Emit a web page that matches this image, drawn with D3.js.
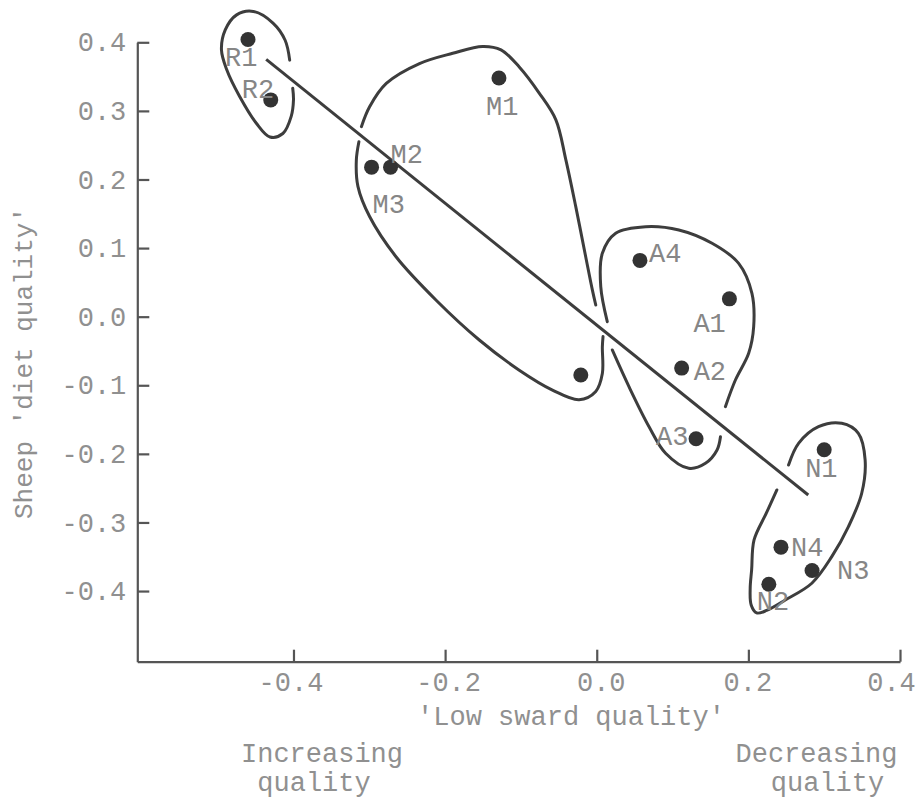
<!DOCTYPE html>
<html>
<head>
<meta charset="utf-8">
<script src="https://cdn.jsdelivr.net/npm/d3@7"></script>
<style>
  html, body { margin: 0; padding: 0; background: #fff; }
  svg { display: block; }
  text { font-family: "Liberation Mono", "Courier New", monospace; }
</style>
</head>
<body>
<svg id="chart" width="916" height="799"></svg>
<script>
// ---------------- data ----------------
const pointNames = ["R1", "R2", "M1", "M2", "M3", "", "A4", "A1", "A2", "A3", "N1", "N4", "N3", "N2"];
const lowSwardQuality = [-0.460, -0.430, -0.129, -0.272, -0.297, -0.021, 0.057, 0.175, 0.112, 0.131, 0.300, 0.243, 0.284, 0.227];
const sheepDietQuality = [0.404, 0.316, 0.348, 0.218, 0.218, -0.085, 0.082, 0.026, -0.075, -0.178, -0.194, -0.336, -0.370, -0.390];

// fitted line end points
const trendX = [-0.436, 0.279];
const trendY = [0.375, -0.260];

// axis ticks
const xTickValues = [-0.4, -0.2, 0.0, 0.2, 0.4];
const xTickLabels = ["-0.4", "-0.2", "0.0", "0.2", "0.4"];
const yTickValues = [0.4, 0.3, 0.2, 0.1, 0.0, -0.1, -0.2, -0.3, -0.4];
const yTickLabels = ["0.4", "0.3", "0.2", "0.1", "0.0", "-0.1", "-0.2", "-0.3", "-0.4"];

// group outlines (hand-drawn, open strokes), in data units [x, y]
const groupR = [[-0.405,0.374],[-0.411,0.403],[-0.427,0.428],[-0.453,0.445],[-0.475,0.440],[-0.490,0.418],[-0.495,0.389],[-0.488,0.360],[-0.471,0.321],[-0.449,0.282],[-0.431,0.262],[-0.414,0.267],[-0.403,0.292],[-0.400,0.316],[-0.401,0.333]];
const groupMUpper = [[-0.3104,0.277],[-0.2996,0.306],[-0.2776,0.340],[-0.2338,0.369],[-0.190,0.384],[-0.1505,0.394],[-0.1263,0.389],[-0.1022,0.364],[-0.0759,0.326],[-0.0539,0.287],[-0.0408,0.229],[-0.0276,0.160],[-0.0145,0.087],[-0.0058,0.039],[-0.0013,0.017]];
const groupMLower = [[-0.3137,0.255],[-0.3171,0.228],[-0.315,0.190],[-0.2996,0.146],[-0.2645,0.087],[-0.2118,0.024],[-0.1549,-0.034],[-0.1022,-0.078],[-0.0584,-0.107],[-0.0233,-0.121],[-0.0013,-0.109],[0.0074,-0.083],[0.0074,-0.044],[0.0083,-0.029]];
const groupAUpper = [[0.0139,-0.0073],[0.0053,0.0437],[0.0074,0.0924],[0.025,0.1216],[0.0645,0.1312],[0.1083,0.1264],[0.1521,0.107],[0.1872,0.0778],[0.2047,0.0341],[0.207,-0.0146],[0.2004,-0.0534],[0.1829,-0.0923],[0.1697,-0.1312]];
const groupALower = [[0.0205,-0.0485],[0.0425,-0.102],[0.0688,-0.160],[0.0908,-0.199],[0.1214,-0.221],[0.1434,-0.2137],[0.1587,-0.1943],[0.1632,-0.175]];
const groupN = [[0.253,-0.2162],[0.2662,-0.1846],[0.2925,-0.1603],[0.3232,-0.1554],[0.3451,-0.170],[0.354,-0.2089],[0.3495,-0.2574],[0.332,-0.3061],[0.310,-0.3499],[0.2837,-0.3886],[0.2487,-0.413],[0.2241,-0.4283],[0.2109,-0.4319],[0.2037,-0.4203],[0.2024,-0.3955],[0.2043,-0.3693],[0.2075,-0.3255],[0.2238,-0.2862],[0.2376,-0.2526]];

// texts
const xTitle = "'Low sward quality'";
const yTitle = "Sheep 'diet quality'";
const leftNote = ["Increasing", "quality"];
const rightNote = ["Decreasing", "quality"];

// ---------------- layout (pixel offsets, not data) ----------------
const labelOffsets = [[-23,26],[-29,-2],[-13,37],[0,-4],[1,46],[0,0],[9,2],[-36,33],[12,12],[-40,6],[-19,27],[10,9],[25,9],[-12,26]];
const xTickShift = [-3, 3, 4, -1, -9];

const svg = d3.select("#chart");
const FONT = 27;
const textColor = "#909090";
const inkColor = "#3d3d3d";

const x = d3.scaleLinear().domain([-0.606, 0.4]).range([137.3, 900]);
const y = d3.scaleLinear().domain([-0.503, 0.4]).range([661.7, 42.3]);

// axes
const xAxis = d3.axisBottom(x)
  .tickValues(xTickValues)
  .tickFormat((d, i) => xTickLabels[i])
  .tickSizeInner(-12).tickSizeOuter(0).tickPadding(10);
const yAxis = d3.axisLeft(y)
  .tickValues(yTickValues)
  .tickFormat((d, i) => yTickLabels[i])
  .tickSizeInner(-12).tickSizeOuter(0).tickPadding(11);

const gx = svg.append("g").attr("transform", `translate(0,${y(-0.503)})`).call(xAxis);
const gy = svg.append("g").attr("transform", `translate(${x(-0.606)},0)`).call(yAxis);
[gx, gy].forEach(g => {
  g.select(".domain").attr("stroke", "#555").attr("stroke-width", 2.2);
  g.selectAll(".tick line").attr("stroke", "#555").attr("stroke-width", 2.2);
  g.selectAll(".tick text").attr("fill", textColor).attr("font-size", FONT)
    .attr("font-family", "Liberation Mono, Courier New, monospace");
});
gx.selectAll(".tick text").attr("dx", (d, i) => xTickShift[i]);

// titles
svg.append("text").attr("x", 571).attr("y", 725).attr("text-anchor", "middle")
  .attr("font-size", FONT).attr("fill", textColor).text(xTitle);
svg.append("text").attr("transform", `translate(32,363) rotate(-90)`).attr("text-anchor", "middle")
  .attr("font-size", 26).attr("fill", textColor).text(yTitle);

svg.append("text").attr("x", 322).attr("y", 762).attr("text-anchor", "middle")
  .attr("font-size", FONT).attr("fill", textColor).text(leftNote[0]);
svg.append("text").attr("x", 314).attr("y", 791).attr("text-anchor", "middle")
  .attr("font-size", FONT).attr("fill", textColor).text(leftNote[1]);
svg.append("text").attr("x", 816.5).attr("y", 762).attr("text-anchor", "middle")
  .attr("font-size", FONT).attr("fill", textColor).text(rightNote[0]);
svg.append("text").attr("x", 827.5).attr("y", 791).attr("text-anchor", "middle")
  .attr("font-size", FONT).attr("fill", textColor).text(rightNote[1]);

// group outlines
const outline = d3.line().x(d => x(d[0])).y(d => y(d[1])).curve(d3.curveCatmullRom.alpha(0.5));
[groupR, groupMUpper, groupMLower, groupAUpper, groupALower, groupN].forEach(seg => {
  svg.append("path").attr("d", outline(seg)).attr("fill", "none")
    .attr("stroke", inkColor).attr("stroke-width", 3).attr("stroke-linecap", "round");
});

// trend line
svg.append("line")
  .attr("x1", x(trendX[0])).attr("y1", y(trendY[0]))
  .attr("x2", x(trendX[1])).attr("y2", y(trendY[1]))
  .attr("stroke", inkColor).attr("stroke-width", 3);

// points
const pts = pointNames.map((n, i) => ({ name: n, vx: lowSwardQuality[i], vy: sheepDietQuality[i], off: labelOffsets[i] }));
svg.append("g").selectAll("circle").data(pts).join("circle")
  .attr("cx", d => x(d.vx)).attr("cy", d => y(d.vy)).attr("r", 7.5).attr("fill", "#333");

svg.append("g").selectAll("text").data(pts.filter(d => d.name)).join("text")
  .attr("x", d => x(d.vx) + d.off[0]).attr("y", d => y(d.vy) + d.off[1])
  .attr("font-size", FONT).attr("fill", "#868686").text(d => d.name);
</script>
</body>
</html>
